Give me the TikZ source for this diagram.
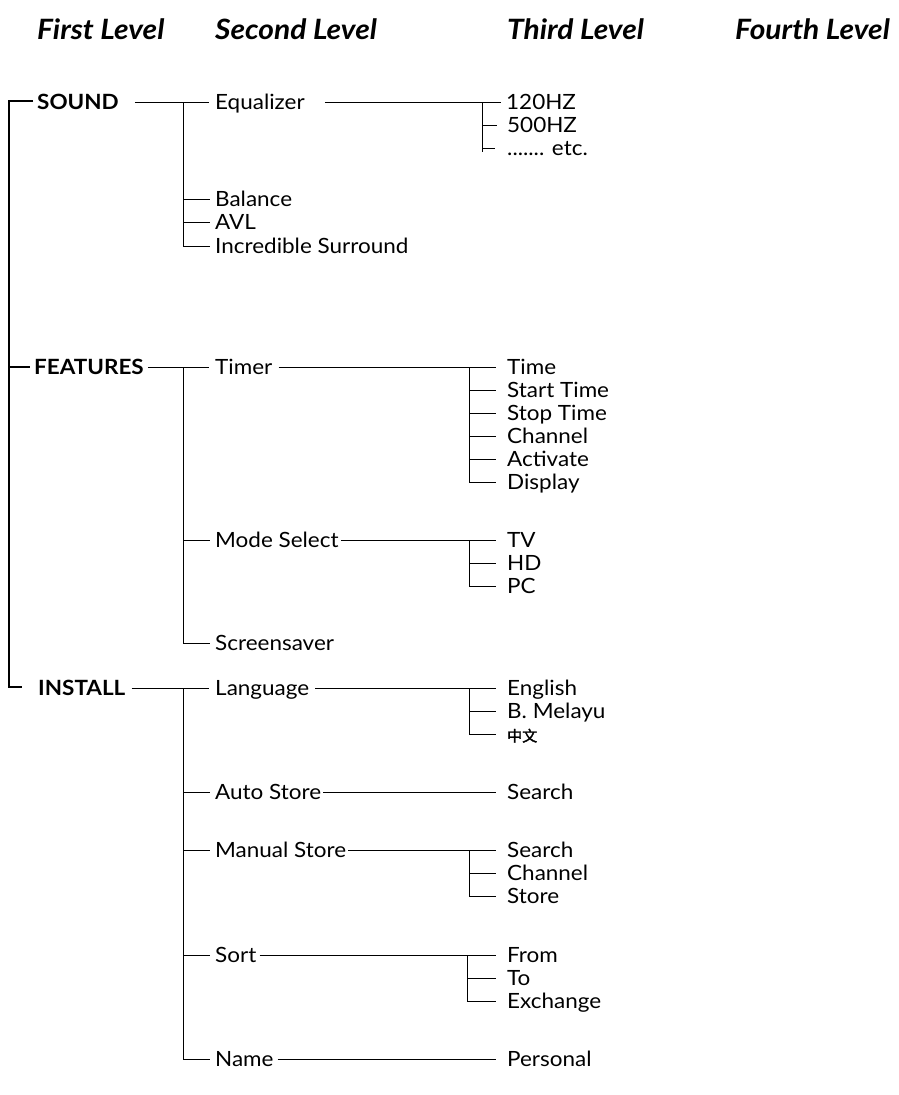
\documentclass[tikz,border=0pt]{standalone}
\usepackage{fontspec}
\setmainfont{Lato}[FakeStretch=1.07]
\newfontfamily\cjk[AutoFakeBold=2]{Noto Sans CJK SC}
\begin{document}
\begin{tikzpicture}[x=1pt,y=-1pt,
  lbl/.style={anchor=west,inner sep=0pt,text height=15pt,text depth=0pt,font=\fontsize{21}{22}\selectfont},
  topl/.style={lbl,font=\fontsize{21}{22}\selectfont\bfseries},
  hdr/.style={anchor=base west,inner sep=0pt,font=\fontsize{28}{30}\selectfont\bfseries\itshape},
  ln/.style={line width=1pt},
  spine/.style={line width=1.5pt}]
\useasboundingbox (0,0) rectangle (899,1095);

% headers
\node[hdr] (h1) at (37,39) {First Level};
\node[hdr] (h2) at (215,39) {Second Level};
\node[hdr] (h3) at (507,39) {Third Level};
\node[hdr] (h4) at (735,39) {Fourth Level};

% level 1
\node[topl] (sound) at (37,102) {SOUND};
\node[topl] (feat) at (34,367) {FEATURES};
\node[topl] (inst) at (38,688) {INSTALL};

% level 2
\node[lbl] (eq) at (215,102) {Equalizer};
\node[lbl] (bal) at (215,199) {Balance};
\node[lbl] (avl) at (215,222) {AVL};
\node[lbl] (inc) at (215,246) {Incredible Surround};
\node[lbl] (timer) at (215,367) {Timer};
\node[lbl] (mode) at (215,540) {Mode Select};
\node[lbl] (scr) at (215,643) {Screensaver};
\node[lbl] (lang) at (215,688) {Language};
\node[lbl] (auto) at (215,792) {Auto Store};
\node[lbl] (man) at (215,850) {Manual Store};
\node[lbl] (sort) at (215,955) {Sort};
\node[lbl] (name) at (215,1059) {Name};

% level 3
\node[lbl] (hz1) at (506,102) {120HZ};
\node[lbl] (hz2) at (507,125) {500HZ};
\node[lbl] (etc) at (507,148) {....... etc.};
\node[lbl] (time) at (507,367) {Time};
\node[lbl] (start) at (507,390) {Start Time};
\node[lbl] (stop) at (507,413) {Stop Time};
\node[lbl] (chan) at (507,436) {Channel};
\node[lbl] (act) at (507,459) {Activate};
\node[lbl] (disp) at (507,482) {Display};
\node[lbl] (tv) at (507,540) {TV};
\node[lbl] (hd) at (507,563) {HD};
\node[lbl] (pc) at (507,586) {PC};
\node[lbl] (eng) at (507,688) {English};
\node[lbl] (mel) at (507,711) {B. Melayu};
\node[lbl,font=\cjk\bfseries\fontsize{15}{16}\selectfont] (zh) at (507,734) {中文};
\node[lbl] (srch) at (507,792) {Search};
\node[lbl] (srch2) at (507,850) {Search};
\node[lbl] (chan2) at (507,873) {Channel};
\node[lbl] (store) at (507,896) {Store};
\node[lbl] (from) at (507,955) {From};
\node[lbl] (to) at (507,978) {To};
\node[lbl] (exch) at (507,1001) {Exchange};
\node[lbl] (pers) at (507,1059) {Personal};

% spine level 1
\coordinate (s0) at (9,101);
\coordinate (s2) at (9,687);
\draw[spine] ([xshift=-4pt,yshift=1pt]sound.west) -- (s0) -- (s2) -- ([xshift=-16pt,yshift=1pt]inst.west);
\draw[spine] (s0 |- feat.west) -- ([xshift=-4pt]feat.west);

% level 1 -> level 2
\coordinate (ja) at (183,102);
\coordinate (jb) at (183,367);
\coordinate (jc) at (183,688);
\draw[ln] ([xshift=16pt]sound.east) -- ([xshift=-6pt]eq.west);
\draw[ln] (ja) |- ([xshift=-5pt]inc.west);
\draw[ln] (ja |- bal.west) -- ([xshift=-5pt]bal.west);
\draw[ln] (ja |- avl.west) -- ([xshift=-5pt]avl.west);

\draw[ln] ([xshift=4pt]feat.east) -- ([xshift=-6pt]timer.west);
\draw[ln] (jb) |- ([xshift=-5pt]scr.west);
\draw[ln] (jb |- mode.west) -- ([xshift=-5pt]mode.west);

\draw[ln] ([xshift=6pt]inst.east) -- ([xshift=-6pt]lang.west);
\draw[ln] (jc) |- ([xshift=-5pt]name.west);
\draw[ln] (jc |- auto.west) -- ([xshift=-5pt]auto.west);
\draw[ln] (jc |- man.west) -- ([xshift=-5pt]man.west);
\draw[ln] (jc |- sort.west) -- ([xshift=-5pt]sort.west);

% level 2 -> level 3
\coordinate (ka) at (482,102);
\draw[ln] ([xshift=20pt]eq.east) -- ([xshift=-5pt]hz1.west);
\draw[ln] (ka) -- ++(0,50);
\draw[ln] (ka |- hz2.west) -- ([xshift=-10pt]hz2.west);
\draw[ln] (ka |- etc.west) -- ([xshift=-12pt]etc.west);

\coordinate (kb) at (469,367);
\draw[ln] ([xshift=6pt]timer.east) -- ([xshift=-11pt]time.west);
\draw[ln] (kb) |- ([xshift=-11pt]disp.west);
\foreach \n in {start,stop,chan,act}
  \draw[ln] (kb |- \n.west) -- ([xshift=-11pt]\n.west);

\coordinate (kc) at (469,540);
\draw[ln] ([xshift=2pt]mode.east) -- ([xshift=-11pt]tv.west);
\draw[ln] (kc) |- ([xshift=-11pt]pc.west);
\draw[ln] (kc |- hd.west) -- ([xshift=-11pt]hd.west);

\coordinate (kd) at (469,688);
\draw[ln] ([xshift=6pt]lang.east) -- ([xshift=-11pt]eng.west);
\draw[ln] (kd) |- ([xshift=-11pt]zh.west);
\draw[ln] (kd |- mel.west) -- ([xshift=-11pt]mel.west);

\draw[ln] ([xshift=2pt]auto.east) -- ([xshift=-11pt]srch.west);

\coordinate (ke) at (469,850);
\draw[ln] ([xshift=2pt]man.east) -- ([xshift=-11pt]srch2.west);
\draw[ln] (ke) |- ([xshift=-11pt]store.west);
\draw[ln] (ke |- chan2.west) -- ([xshift=-11pt]chan2.west);

\coordinate (kf) at (467,955);
\draw[ln] ([xshift=3pt]sort.east) -- ([xshift=-11pt]from.west);
\draw[ln] (kf) |- ([xshift=-11pt]exch.west);
\draw[ln] (kf |- to.west) -- ([xshift=-11pt]to.west);

\draw[ln] ([xshift=4pt]name.east) -- ([xshift=-11pt]pers.west);
\end{tikzpicture}
\end{document}
